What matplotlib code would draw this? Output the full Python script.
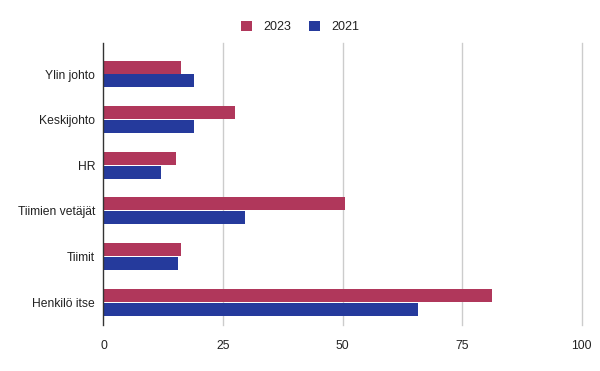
import matplotlib
matplotlib.use("Agg")
import matplotlib.pyplot as plt
import numpy as np

categories = ["Ylin johto", "Keskijohto", "HR", "Tiimien vetäjät", "Tiimit", "Henkilö itse"]
values_2023 = [16.2, 27.6, 15.2, 50.6, 16.2, 81.2]
values_2021 = [19.0, 19.0, 12.1, 29.5, 15.6, 65.7]
series_names = ["2023", "2021"]
xticks = [0, 25, 50, 75, 100]

plt.rcParams['font.family'] = ['Liberation Sans', 'DejaVu Sans']

fig = plt.figure(figsize=(6, 3.71), dpi=100)
ax = fig.add_axes([103.5/600, (371-325)/371, (581.5-103.5)/600, (325-43)/371])

y = np.arange(len(categories))
h = 0.285
gap = 0.02
c23 = "#B0375B"
c21 = "#253A9C"
ax.barh(y - h/2 - gap/2, values_2023, height=h, color=c23, label=series_names[0], zorder=3)
ax.barh(y + h/2 + gap/2, values_2021, height=h, color=c21, label=series_names[1], zorder=3)

ax.set_ylim(5.5, -0.68)
ax.set_xlim(0, 100)
ax.set_yticks(y)
ax.set_yticklabels(categories, fontsize=8.7, color="#222222")
ax.set_xticks(xticks)
ax.set_xticklabels([str(t) for t in xticks], fontsize=8.7, color="#222222")
ax.tick_params(axis='y', length=0, pad=6)
ax.tick_params(axis='x', length=0, pad=11)
for s in ["top", "right", "bottom"]:
    ax.spines[s].set_visible(False)
ax.spines["left"].set_color("#333333")
ax.spines["left"].set_linewidth(1)
ax.spines["left"].set_zorder(4)
for t in xticks[1:]:
    ax.axvline(t, color="#cccccc", linewidth=1, zorder=0, clip_on=False)

leg = fig.legend(loc='upper center', bbox_to_anchor=(0.5, 0.975), ncol=2, frameon=False,
                 fontsize=9, handlelength=0.9, handleheight=0.9, columnspacing=1.4, handletextpad=0.9)
for t in leg.get_texts():
    t.set_color("#222222")

fig.savefig("out.png", dpi=100)
